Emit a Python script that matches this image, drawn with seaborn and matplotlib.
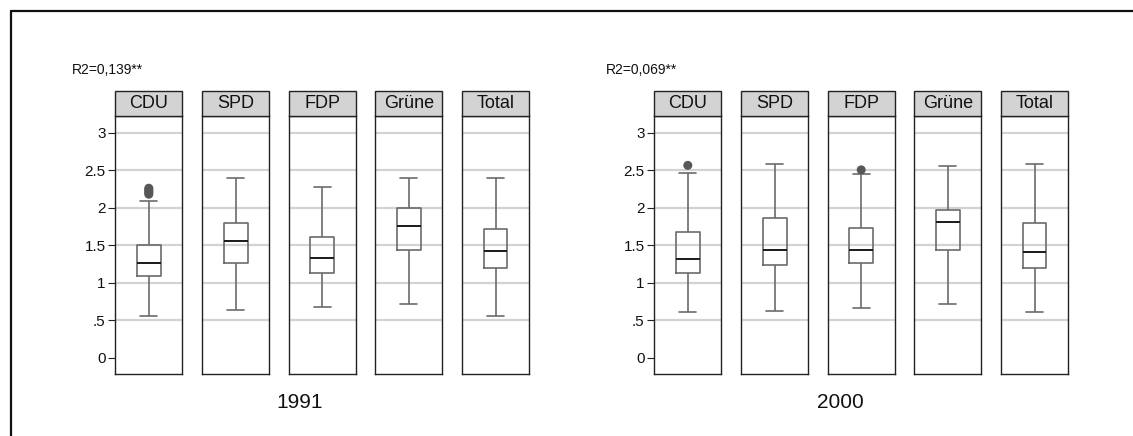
import numpy as np
import pandas as pd
import matplotlib
matplotlib.use("Agg")
import matplotlib.pyplot as plt
import seaborn as sns
from matplotlib.lines import Line2D
from matplotlib.patches import Rectangle

# ---------------- data ----------------
parties = ["CDU", "SPD", "FDP", "Grüne", "Total"]
years = ["1991", "2000"]
r2_labels = ["R2=0,139**", "R2=0,069**"]

# five-number summaries: lower whisker, Q1, median, Q3, upper whisker
stats_1991 = [
    [0.55, 1.09, 1.26, 1.50, 2.085],
    [0.64, 1.26, 1.55, 1.79, 2.40],
    [0.67, 1.125, 1.33, 1.605, 2.27],
    [0.71, 1.43, 1.75, 2.00, 2.40],
    [0.55, 1.19, 1.42, 1.71, 2.40],
]
stats_2000 = [
    [0.61, 1.125, 1.32, 1.68, 2.46],
    [0.62, 1.235, 1.435, 1.86, 2.585],
    [0.66, 1.26, 1.435, 1.735, 2.45],
    [0.72, 1.43, 1.81, 1.965, 2.55],
    [0.61, 1.20, 1.41, 1.80, 2.585],
]
outliers_1991 = [[2.18, 2.20, 2.22, 2.24, 2.26], [], [], [], []]
outliers_2000 = [[2.565], [], [2.505], [], []]

all_stats = [stats_1991, stats_2000]
all_outliers = [outliers_1991, outliers_2000]

yticks = [0, 0.5, 1, 1.5, 2, 2.5, 3]
ytick_labels = ["0", ".5", "1", "1.5", "2", "2.5", "3"]
grid_vals = [0.5, 1, 1.5, 2, 2.5, 3]

# ---------------- layout ----------------
W, H = 1133, 436
sns.set_theme(style="white")
plt.rcParams["font.family"] = ["Liberation Sans", "DejaVu Sans"]

fig = plt.figure(figsize=(W / 100, H / 100), dpi=100)
fig.patch.set_facecolor("white")

panel_lefts = [[115.3, 202.3, 288.7, 375.3, 462.0],
               [654.3, 741.3, 827.7, 914.3, 1001.0]]
panel_w = 67.0
ax_top_px = 115.7
ax_bot_px = 374.0
strip_h = 24.7
ylim = (-0.217, 3.227)

box_col = "#6b6b6b"
med_col = "#1a1a1a"
grid_col = "#d3d3d3"

def fx(px):
    return px / W

def fy(py):
    return 1 - py / H

for yi in range(2):
    for pi, party in enumerate(parties):
        left = panel_lefts[yi][pi]
        ax = fig.add_axes([fx(left), fy(ax_bot_px), panel_w / W,
                           (ax_bot_px - ax_top_px) / H])
        ax.set_facecolor("white")
        for g in grid_vals:
            ax.axhline(g, color=grid_col, lw=1.6, zorder=0)
        df = pd.DataFrame({"x": [party] * 5, "y": all_stats[yi][pi]})
        sns.boxplot(data=df, x="x", y="y", ax=ax, whis=(0, 100), width=0.35,
                    fill=False, color=box_col, linewidth=1.2,
                    medianprops=dict(color=med_col, linewidth=1.4),
                    capwidths=0.25, showfliers=False, zorder=3)
        outs = all_outliers[yi][pi]
        if outs:
            sns.scatterplot(x=[party] * len(outs), y=outs, ax=ax,
                            color="#575757", s=42, edgecolor="none",
                            zorder=4, legend=False)
        ax.set_xlim(-0.5, 0.5)
        ax.set_ylim(*ylim)
        ax.set_xlabel("")
        ax.set_ylabel("")
        ax.set_xticks([])
        for s in ax.spines.values():
            s.set_visible(True)
            s.set_color("#222222")
            s.set_linewidth(1.0)
        if pi == 0:
            ax.set_yticks(yticks)
            ax.set_yticklabels(ytick_labels, fontsize=11)
            ax.tick_params(axis="y", left=True, length=5, width=0.8,
                           color="#222222", pad=2, labelcolor="#111111")
        else:
            ax.set_yticks([])
        # strip header
        sh = strip_h / (ax_bot_px - ax_top_px)
        rect = Rectangle((0, 1), 1, sh, transform=ax.transAxes,
                         facecolor="#d3d3d3", edgecolor="#222222",
                         lw=1.0, clip_on=False, zorder=5)
        ax.add_patch(rect)
        ax.text(0.5, 1 + sh / 2, party, transform=ax.transAxes,
                ha="center", va="center", fontsize=13, color="#111111",
                zorder=6)

# R2 labels and year labels
r2_x = [71.7, 606.0]
year_x = [300.0, 840.0]
for yi in range(2):
    fig.text(fx(r2_x[yi]), fy(70), r2_labels[yi], ha="left", va="center",
             fontsize=10, color="#111111")
    fig.text(fx(year_x[yi]), fy(402), years[yi], ha="center", va="center",
             fontsize=15, color="#111111")

# outer border (top and left edges visible)
fig.add_artist(Line2D([fx(11), 1.0], [fy(11), fy(11)], color="#111111",
                      lw=1.6, transform=fig.transFigure))
fig.add_artist(Line2D([fx(11), fx(11)], [fy(11), 0.0], color="#111111",
                      lw=1.6, transform=fig.transFigure))

fig.savefig("out.png", dpi=100, facecolor="white")
